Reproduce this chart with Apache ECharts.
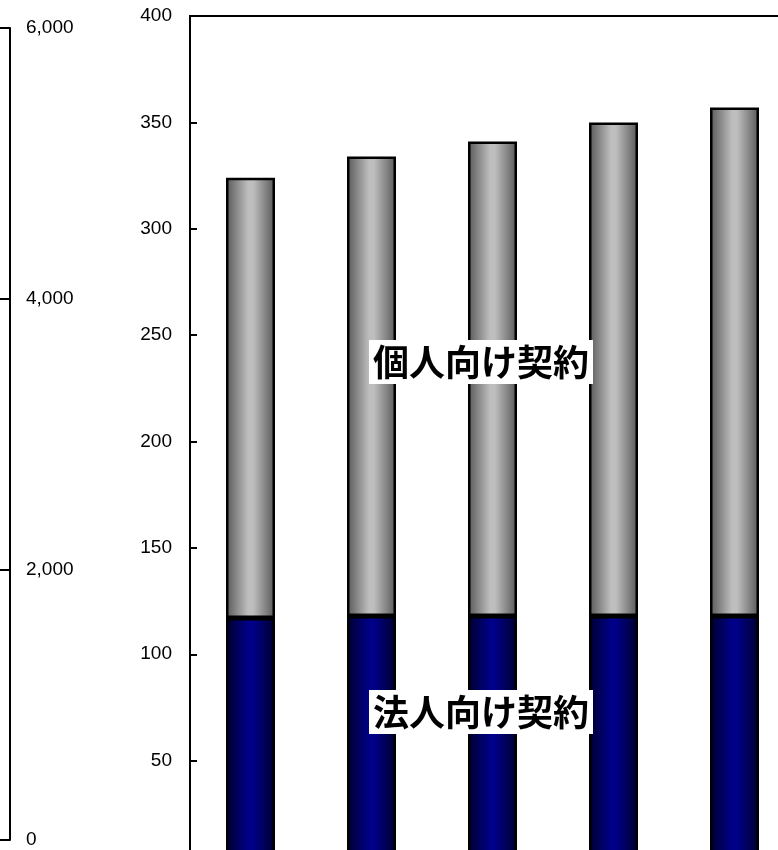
<!DOCTYPE html>
<html>
<head>
<meta charset="utf-8">
<script src="https://cdn.jsdelivr.net/npm/echarts@6/dist/echarts.min.js"></script>
<style>
html,body{margin:0;padding:0;background:#fff;}
#c{width:778px;height:850px;}
</style>
</head>
<body>
<div id="c"></div>
<script>
var categories = ['1', '2', '3', '4', '5'];
var corporate = [117, 118, 118, 118, 118];
var individual = [207, 216, 223, 232, 239];
var leftTicks = [0, 2000, 4000, 6000];
var rightTicks = [0, 50, 100, 150, 200, 250, 300, 350, 400];
var labelIndividual = '個人向け契約';
var labelCorporate = '法人向け契約';

var chart = echarts.init(document.getElementById('c'));
function grad(edge, mid) {
  return {type:'linear', x:0, y:0, x2:1, y2:0, colorStops:[
    {offset:0, color:edge},{offset:0.45, color:mid},{offset:0.55, color:mid},{offset:1, color:edge}]};
}
var labelFont = 'bold 36px "Noto Sans CJK JP"';
function labelBox(txt, cx, cy) {
  return {type:'group', children:[
    {type:'rect', shape:{x:cx-112, y:cy-22, width:224, height:44}, style:{fill:'#fff'}, z:100},
    {type:'text', x:cx, y:cy, style:{text:txt, font:labelFont, fill:'#000', align:'center', verticalAlign:'middle'}, z:101}
  ]};
}
chart.setOption({
  animation:false,
  grid:[
    {left:10, top:28, height:812, width:1, show:false, outerBoundsMode:'none', containLabel:false},
    {left:190, top:16, height:851, width:605, show:true, borderColor:'#000', borderWidth:2, backgroundColor:'transparent', outerBoundsMode:'none', containLabel:false}
  ],
  xAxis:[
    {gridIndex:0, type:'value', show:false},
    {gridIndex:1, type:'category', data:categories, axisLine:{show:false}, axisTick:{show:false}, axisLabel:{show:false}}
  ],
  yAxis:[
    {gridIndex:0, type:'value', min:leftTicks[0], max:leftTicks[leftTicks.length-1], interval:leftTicks[1]-leftTicks[0],
     axisLine:{show:true, lineStyle:{color:'#000', width:2}},
     axisTick:{show:true, inside:false, length:10, lineStyle:{color:'#000', width:2}},
     axisLabel:{inside:true, margin:16, color:'#000', fontSize:19, fontFamily:'Liberation Sans', padding:[4,0,0,0],
       formatter:function(v){return v.toLocaleString('en-US');}},
     splitLine:{show:false}},
    {gridIndex:1, type:'value', min:rightTicks[0], max:rightTicks[rightTicks.length-1], interval:rightTicks[1]-rightTicks[0],
     axisLine:{show:true, lineStyle:{color:'#000', width:2}},
     axisTick:{show:true, inside:true, length:7, lineStyle:{color:'#000', width:2}},
     axisLabel:{margin:18, color:'#000', fontSize:19, fontFamily:'Liberation Sans', padding:[4,0,0,0]},
     splitLine:{show:false}}
  ],
  series:[
    {type:'bar', xAxisIndex:1, yAxisIndex:1, stack:'s', data:corporate, barWidth:49,
     itemStyle:{color:grad('#00002e','#000088'), borderColor:'#000', borderWidth:2.5}},
    {type:'bar', xAxisIndex:1, yAxisIndex:1, stack:'s', data:individual, barWidth:49,
     itemStyle:{color:grad('#585858','#bebebe'), borderColor:'#000', borderWidth:2.5}}
  ],
  graphic:[labelBox(labelIndividual, 481, 362), labelBox(labelCorporate, 481, 712)]
});
</script>
</body>
</html>
